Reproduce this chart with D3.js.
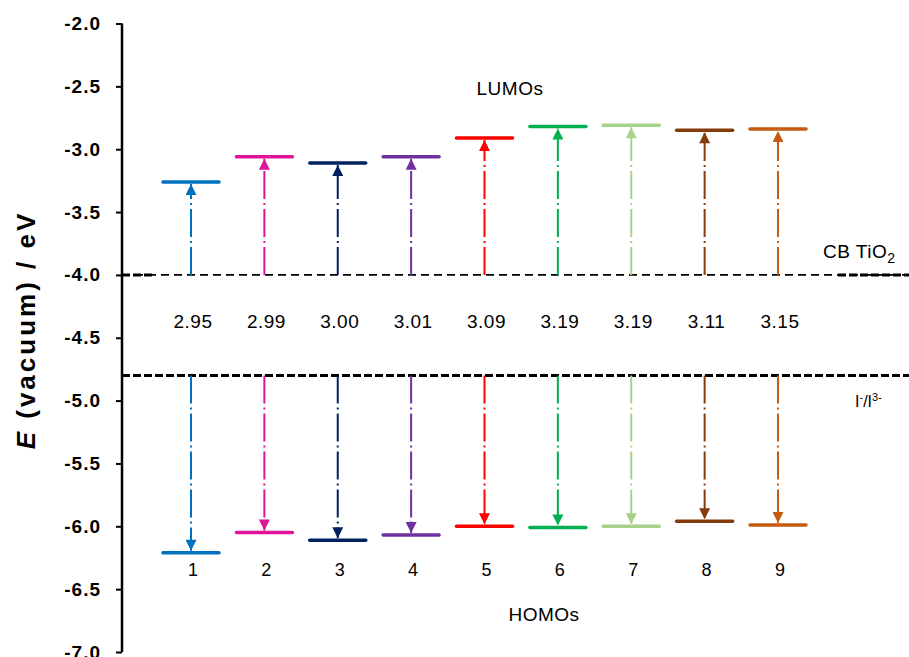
<!DOCTYPE html>
<html>
<head>
<meta charset="utf-8">
<script src="https://cdn.jsdelivr.net/npm/d3@7"></script>
<style>
  body { margin: 0; background: #fff; }
  svg { display: block; font-family: Arial, 'Liberation Sans', sans-serif; }
</style>
</head>
<body>
<div id="chart"></div>
<script>
// dyes 1..9, orbital energies in eV (vs vacuum)
const dyes = ['1', '2', '3', '4', '5', '6', '7', '8', '9'];
const lumo = [-3.26, -3.06, -3.11, -3.06, -2.91, -2.82, -2.81, -2.85, -2.84];
const homo = [-6.21, -6.05, -6.11, -6.07, -6.00, -6.01, -6.00, -5.96, -5.99];
const gapLabels = ['2.95', '2.99', '3.00', '3.01', '3.09', '3.19', '3.19', '3.11', '3.15'];
const colors = ['#0070C0', '#E0139A', '#002060', '#7030A0', '#FF0000', '#00B050', '#A9D18E', '#843C0C', '#C55A11'];
const yTicks = [-2.0, -2.5, -3.0, -3.5, -4.0, -4.5, -5.0, -5.5, -6.0, -6.5, -7.0];
const cbTiO2 = -4.0;
const redox = -4.8;

const width = 909;
const height = 657;
const axisX = 122;

const svg = d3.select('#chart')
  .append('svg')
  .attr('width', width)
  .attr('height', height);

const y = d3.scaleLinear().domain([-7, -2]).range([652, 23.5]);
const x = d3.scalePoint().domain(dyes).range([191, 778]);

// arrow heads, one per colour
const defs = svg.append('defs');
colors.forEach((c, i) => {
  defs.append('marker')
    .attr('id', `head${i}`)
    .attr('viewBox', '0 0 10 10')
    .attr('refX', 10)
    .attr('refY', 5)
    .attr('markerUnits', 'userSpaceOnUse')
    .attr('markerWidth', 12)
    .attr('markerHeight', 11)
    .attr('orient', 'auto')
    .append('path')
    .attr('d', 'M0,0 L10,5 L0,10 Z')
    .attr('fill', c);
});

// y axis
const yAxis = svg.append('g')
  .attr('transform', `translate(${axisX},0)`)
  .call(d3.axisLeft(y).tickValues(yTicks).tickFormat(d => d.toFixed(1)).tickSize(6).tickPadding(15));
yAxis.select('.domain').attr('stroke', '#000').attr('stroke-width', 2.5)
  .attr('d', `M0,${y(-2)}V${y(-7)}`);
yAxis.selectAll('.tick line').attr('stroke', '#000').attr('stroke-width', 2);
yAxis.selectAll('.tick text')
  .attr('fill', '#000')
  .style('font-size', '19px')
  .style('font-weight', 'bold')
  .style('letter-spacing', '1px');

// axis title
svg.append('text')
  .attr('transform', 'translate(35,330) rotate(-90)')
  .attr('text-anchor', 'middle')
  .style('font-size', '26px')
  .style('font-weight', 'bold')
  .style('letter-spacing', '3px')
  .call(t => {
    t.append('tspan').style('font-style', 'italic').text('E');
    t.append('tspan').text(' (vacuum) / eV');
  });

// reference levels: CB of TiO2 and I-/I3- redox
svg.append('line')
  .attr('x1', axisX).attr('x2', width)
  .attr('y1', y(cbTiO2)).attr('y2', y(cbTiO2))
  .attr('stroke', '#000').attr('stroke-width', 1.8)
  .attr('stroke-dasharray', '8,5');
[[axisX, 152], [838, width]].forEach(([a, b]) => {
  svg.append('line')
    .attr('x1', a).attr('x2', b)
    .attr('y1', y(cbTiO2)).attr('y2', y(cbTiO2))
    .attr('stroke', '#000').attr('stroke-width', 3)
    .attr('stroke-dasharray', '8,3');
});
svg.append('line')
  .attr('x1', axisX).attr('x2', width)
  .attr('y1', y(redox)).attr('y2', y(redox))
  .attr('stroke', '#000').attr('stroke-width', 3)
  .attr('stroke-dasharray', '8,3');

// excitation arrows: CB -> LUMO and redox -> HOMO
const half = 28;
dyes.forEach((d, i) => {
  svg.append('line')
    .attr('x1', x(d)).attr('x2', x(d))
    .attr('y1', y(cbTiO2)).attr('y2', y(lumo[i]) + 2)
    .attr('stroke', colors[i]).attr('stroke-width', 2)
    .attr('stroke-dasharray', '28,4,2,4')
    .attr('marker-end', `url(#head${i})`);
  svg.append('line')
    .attr('x1', x(d)).attr('x2', x(d))
    .attr('y1', y(redox)).attr('y2', y(homo[i]) - 2)
    .attr('stroke', colors[i]).attr('stroke-width', 2)
    .attr('stroke-dasharray', '28,4,2,4')
    .attr('marker-end', `url(#head${i})`);
});

// energy levels
const levels = svg.append('g');
[lumo, homo].forEach(arr => {
  levels.selectAll(null)
    .data(dyes)
    .enter()
    .append('line')
    .attr('x1', d => x(d) - half)
    .attr('x2', d => x(d) + half)
    .attr('y1', (d, i) => y(arr[i]))
    .attr('y2', (d, i) => y(arr[i]))
    .attr('stroke', (d, i) => colors[i])
    .attr('stroke-width', 3.5)
    .attr('stroke-linecap', 'round');
});

// gap values
svg.append('g')
  .selectAll('text')
  .data(dyes)
  .enter()
  .append('text')
  .attr('x', d => x(d) + 2)
  .attr('y', 328)
  .attr('text-anchor', 'middle')
  .style('font-size', '19px')
  .style('letter-spacing', '0.5px')
  .text((d, i) => gapLabels[i]);

// dye numbers
svg.append('g')
  .selectAll('text')
  .data(dyes)
  .enter()
  .append('text')
  .attr('x', d => x(d) + 2)
  .attr('y', 576)
  .attr('text-anchor', 'middle')
  .style('font-size', '18px')
  .text(d => d);

svg.append('text')
  .attr('x', 510).attr('y', 95)
  .attr('text-anchor', 'middle')
  .style('font-size', '19px')
  .style('letter-spacing', '0.5px')
  .text('LUMOs');

svg.append('text')
  .attr('x', 544).attr('y', 621)
  .attr('text-anchor', 'middle')
  .style('font-size', '19px')
  .style('letter-spacing', '0.5px')
  .text('HOMOs');

svg.append('text')
  .attr('x', 823).attr('y', 258)
  .style('font-size', '19px')
  .style('letter-spacing', '0.5px')
  .call(t => {
    t.append('tspan').text('CB TiO');
    t.append('tspan').attr('dy', 5).style('font-size', '14px').text('2');
  });

svg.append('text')
  .attr('x', 855).attr('y', 407)
  .style('font-size', '16px')
  .call(t => {
    t.append('tspan').text('I');
    t.append('tspan').attr('dy', -6).style('font-size', '11px').text('-');
    t.append('tspan').attr('dy', 6).text('/I');
    t.append('tspan').attr('dy', -6).style('font-size', '11px').text('3-');
  });
</script>
</body>
</html>
